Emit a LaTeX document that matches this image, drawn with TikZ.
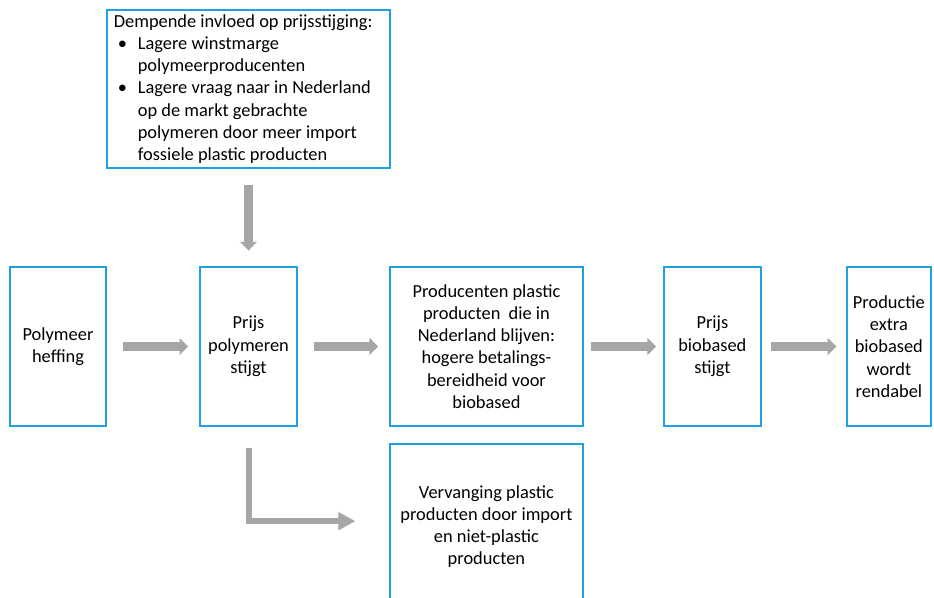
\documentclass[tikz,border=0pt]{standalone}
\usepackage{fontspec}
\setmainfont{Carlito}
\usetikzlibrary{positioning, arrows.meta}
\definecolor{kaderblauw}{RGB}{30,160,225}
\definecolor{pijlgrijs}{RGB}{166,166,166}
\newcommand{\opsom}{\makebox[18pt][l]{\hspace{3pt}\textbullet}}
\newcommand{\vervolg}{\hspace*{18pt}}
\tikzset{
every node/.style = {font = \fontsize{13.8pt}{16.7pt}\selectfont},
kader/.style = {rectangle, draw = kaderblauw, line width = 1.7pt, inner sep = 2pt,
   minimum height = 119.25pt, align = center},
toelichting/.style = {rectangle, draw = kaderblauw, line width = 1.7pt, inner xsep = 5pt,
   text width = 202pt, minimum height = 118.5pt, align = flush left},
flow/.style = {draw = pijlgrijs, line width = 6.5pt,
   -{Triangle[width = 12.5pt, length = 6.5pt]}, shorten < = 12pt, shorten > = 8pt},
bocht/.style = {draw = pijlgrijs, line width = 4.5pt, line join = miter,
   -{Triangle[width = 12.75pt, length = 12.75pt]}}
}

\begin{document}
\begin{tikzpicture}[x = 0.75pt, y = -0.75pt]
\useasboundingbox (0,0) rectangle (934,598);

%% Kaders
\node [kader, minimum width = 72pt] (heffing) at (58,346.5) {Polymeer\\heffing};
\node [kader, minimum width = 72.75pt] (prijspol) [right = 68.8pt of heffing] {Prijs\\polymeren\\stijgt};
\node [kader, minimum width = 144.75pt] (producent) [right = 68pt of prijspol]
   {Producenten plastic\\producten\ \ die in\\Nederland blijven:\\hogere betalings-\\bereidheid voor\\biobased};
\node [kader, minimum width = 72.75pt] (prijsbio) [right = 59pt of producent] {Prijs\\biobased\\stijgt};
\node [kader, minimum width = 63pt] (rendabel) [right = 62.8pt of prijsbio]
   {Productie\\extra\\biobased\\wordt\\rendabel};

\node [toelichting] (demping) [above = 72.5pt of prijspol]
   {Dempende invloed op prijsstijging:\\
    \opsom Lagere winstmarge\\
    \vervolg polymeerproducenten\\
    \opsom Lagere vraag naar in Nederland\\
    \vervolg op de markt gebrachte\\
    \vervolg polymeren door meer import\\
    \vervolg fossiele plastic producten};

\node [kader, minimum width = 144.75pt, minimum height = 123.75pt] (vervanging) [below = 11.8pt of producent]
   {Vervanging plastic\\producten door import\\en niet-plastic\\producten};

%% Pijlen
\draw [flow] (heffing) -- (prijspol);
\draw [flow] (prijspol) -- (producent);
\draw [flow, shorten < = 5pt, shorten > = 5pt] (producent) -- (prijsbio);
\draw [flow, shorten < = 7pt, shorten > = 7pt] (prijsbio) -- (rendabel);
\draw [flow, shorten < = 12pt, shorten > = 11.5pt] (demping.south -| prijspol.north) -- (prijspol.north);

\draw [bocht, shorten < = 16pt, shorten > = 25pt] (prijspol.south) |- ([yshift = 4pt]vervanging.west);

\end{tikzpicture}
\end{document}
